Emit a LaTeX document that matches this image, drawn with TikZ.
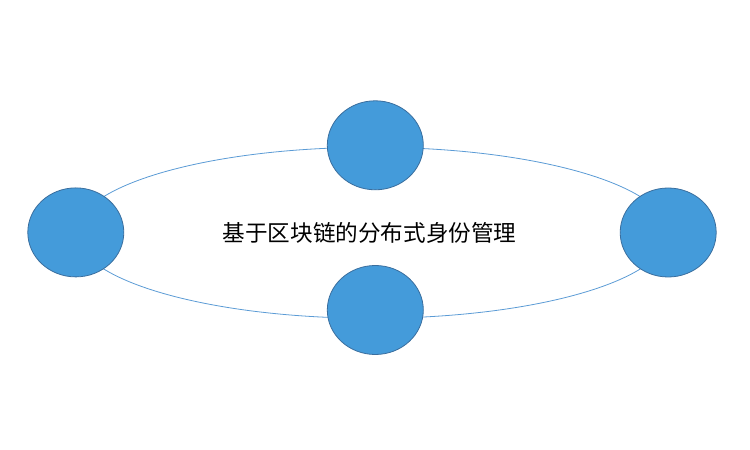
\documentclass[tikz,border=0pt]{standalone}
\usepackage{fontspec}
\newfontfamily\cjk{Noto Sans CJK SC}
\usetikzlibrary{shapes}

\definecolor{nodeblue}{HTML}{449BDA}
\definecolor{edgeblue}{HTML}{3A6E9E}
\definecolor{ringblue}{HTML}{5B9BD5}

\tikzset{
  member/.style={ellipse, draw=edgeblue, fill=nodeblue, line width=0.8pt,
    minimum width=96pt, minimum height=89pt, inner sep=0pt},
  ring/.style={ellipse, draw=ringblue, line width=0.8pt,
    minimum width=592pt, minimum height=171pt, inner sep=0pt}
}

\begin{document}
\begin{tikzpicture}[x=1pt, y=1pt]
      \useasboundingbox (0, 0) rectangle (750, 450);

      % Anneau
      \node[ring] (ring) at (372, 217.2) {};
      \node (title) at (369.5, 217) {\cjk\fontsize{22.6pt}{26pt}\selectfont 基于区块链的分布式身份管理};

      % Les membres
      \node[member] (top) at (375.3, 304.7) {};
      \node[member] (left) at (75.8, 217.6) {};
      \node[member] (right) at (668.2, 217.5) {};
      \node[member] (bottom) at (375.3, 140) {};
    \end{tikzpicture}
\end{document}
